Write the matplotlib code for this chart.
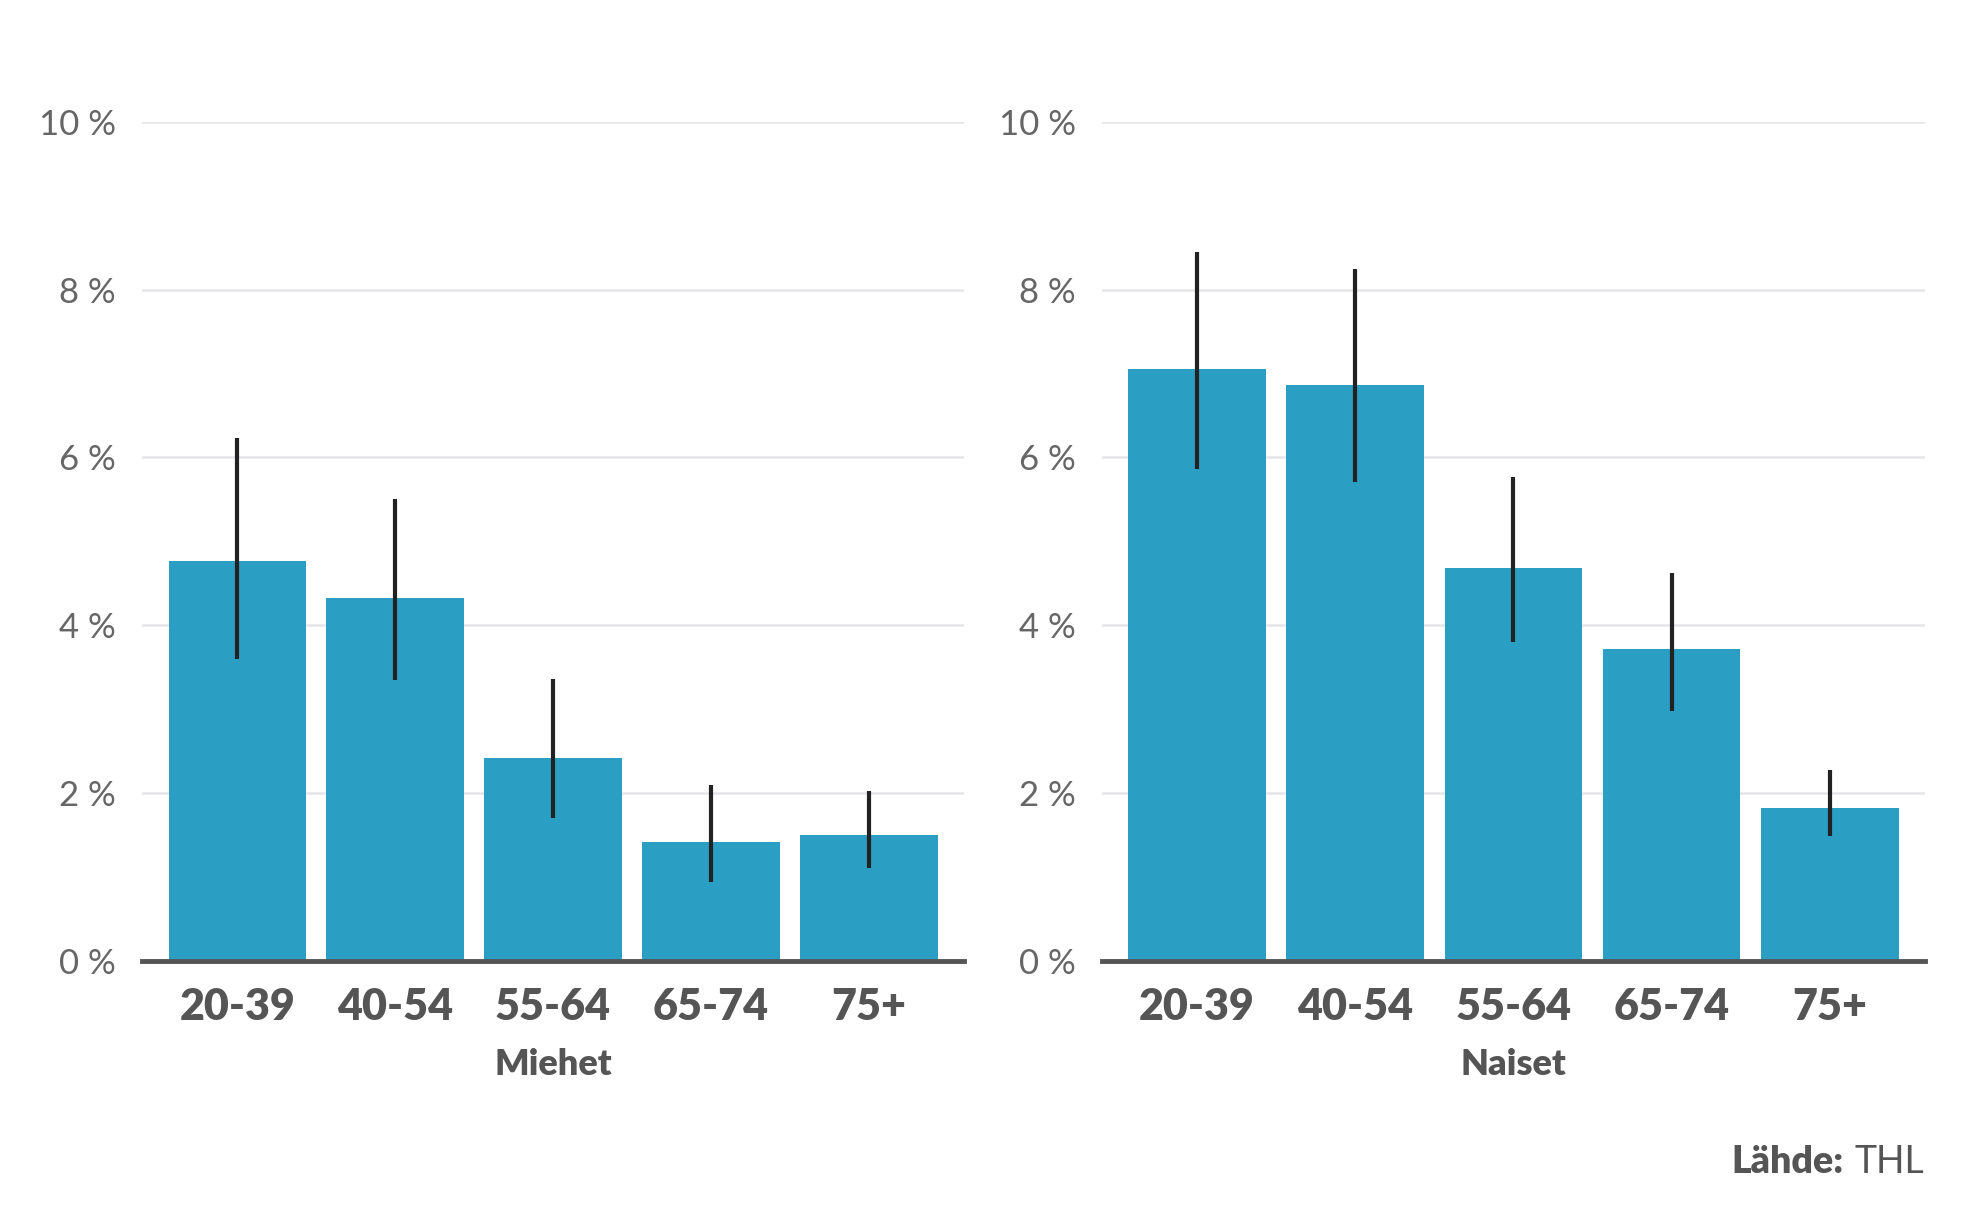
import matplotlib.pyplot as plt
import matplotlib

matplotlib.rcParams['font.family'] = ['Lato', 'DejaVu Sans']

# Ikäryhmät ja osuudet (%) luettu kuvasta
ikaryhmat = ['20-39', '40-54', '55-64', '65-74', '75+']
miehet = [4.76, 4.32, 2.41, 1.41, 1.50]
miehet_ala = [3.59, 3.35, 1.70, 0.94, 1.11]
miehet_yla = [6.23, 5.50, 3.36, 2.09, 2.02]
naiset = [7.05, 6.86, 4.68, 3.71, 1.82]
naiset_ala = [5.86, 5.71, 3.80, 2.97, 1.48]
naiset_yla = [8.45, 8.24, 5.77, 4.62, 2.27]
y_tikit = [0, 2, 4, 6, 8, 10]

fig = plt.figure(figsize=(19.68, 12.3), dpi=100)
ax1 = fig.add_axes([0.0724, 0.219, 0.4173, 0.682])
ax2 = fig.add_axes([0.560, 0.219, 0.418, 0.682])


def draw_panel(ax, arvot, ala, yla, otsikko):
    x = range(len(ikaryhmat))
    ax.bar(x, arvot, width=0.87, color='#2A9FC3', zorder=2)
    virhe = [[a - l for a, l in zip(arvot, ala)], [u - a for a, u in zip(arvot, yla)]]
    ax.errorbar(x, arvot, yerr=virhe, fmt='none', ecolor='#222222', elinewidth=3, capsize=0, zorder=3)
    ax.set_xlim(-0.6, 4.6)
    ax.set_ylim(0, 10)
    ax.set_yticks(y_tikit)
    ax.set_yticklabels([f'{t} %' for t in y_tikit])
    ax.set_xticks(list(x))
    ax.set_xticklabels(ikaryhmat, fontweight='heavy')
    ax.tick_params(axis='y', length=0, pad=19, labelsize=25, labelcolor='#666666')
    ax.tick_params(axis='x', length=0, pad=19, labelsize=31, labelcolor='#555555')
    for s in ['top', 'right', 'left']:
        ax.spines[s].set_visible(False)
    ax.spines['bottom'].set_color('#555555')
    ax.spines['bottom'].set_linewidth(3.5)
    ax.spines['bottom'].set_zorder(4)
    for t in y_tikit[1:]:
        ax.axhline(t, color='#E6E6EA', linewidth=1.8, zorder=1)
    ax.set_xlabel(otsikko, fontsize=26, fontweight='heavy', color='#555555', labelpad=15)


draw_panel(ax1, miehet, miehet_ala, miehet_yla, 'Miehet')
draw_panel(ax2, naiset, naiset_ala, naiset_yla, 'Naiset')

# Lähde
t_thl = fig.text(0.978, 0.055, 'THL', ha='right', va='center', fontsize=27, color='#555555')
fig.canvas.draw()
bb = t_thl.get_window_extent()
x0 = bb.x0 / fig.bbox.width
fig.text(x0 - 0.006, 0.055, 'Lähde:', ha='right', va='center', fontsize=27, fontweight='heavy', color='#555555')

plt.savefig('out.png', dpi=100, facecolor='white')
